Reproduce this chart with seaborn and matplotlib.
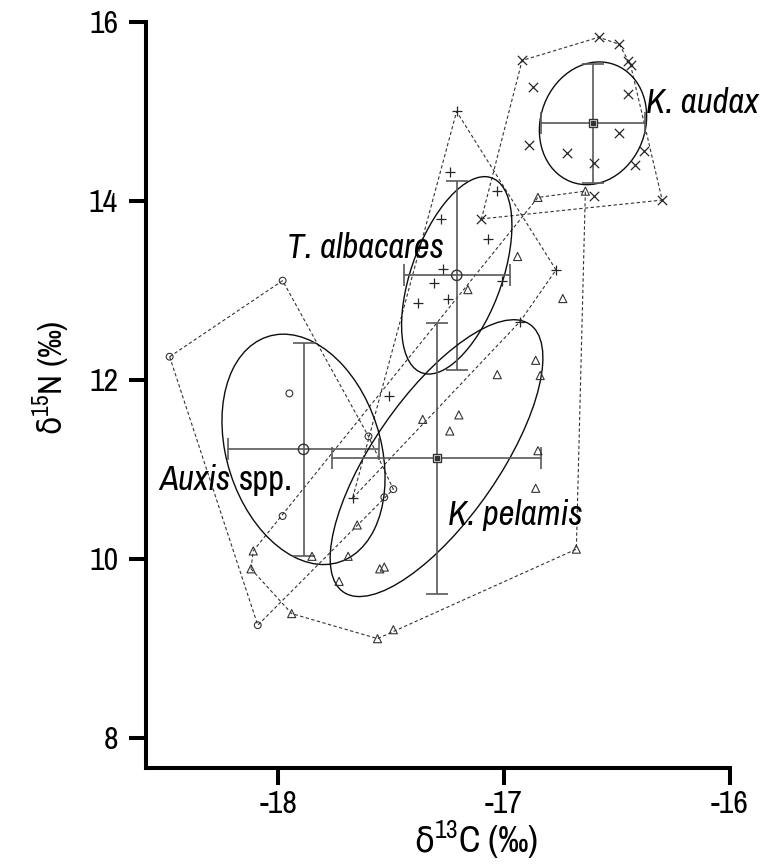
import numpy as np
import matplotlib
matplotlib.use("Agg")
import matplotlib.pyplot as plt
from matplotlib import font_manager as fm
from matplotlib.patches import Ellipse
import seaborn as sns

# d13C / d15N values per species
auxis_c = [-17.98, -18.48, -17.95, -17.60, -17.49, -17.53, -17.98, -18.09]
auxis_n = [13.11, 12.26, 11.85, 11.37, 10.78, 10.69, 10.48, 9.26]

albacares_c = [-17.21, -17.24, -17.03, -17.28, -17.07, -17.27, -17.01,
               -17.31, -17.38, -17.25, -16.77, -16.93, -17.51, -17.67]
albacares_n = [15.00, 14.32, 14.11, 13.80, 13.57, 13.24, 13.11,
               13.08, 12.86, 12.90, 13.23, 12.65, 11.82, 10.68]

pelamis_c = [-18.11, -18.12, -17.94, -17.85, -17.69, -17.65, -17.73, -17.55,
             -17.53, -17.36, -17.56, -17.49, -16.94, -17.16, -16.74, -16.86,
             -17.03, -16.84, -17.20, -17.24, -16.85, -16.86, -16.68, -16.85,
             -16.64]
pelamis_n = [10.09, 9.89, 9.39, 10.03, 10.03, 10.38, 9.75, 9.89,
             9.91, 11.56, 9.11, 9.21, 13.38, 13.01, 12.91, 12.22,
             12.06, 12.05, 11.61, 11.43, 11.21, 10.79, 10.11, 14.04,
             14.11]

audax_c = [-16.92, -16.58, -16.49, -16.45, -16.44, -16.87, -16.45, -16.49,
           -16.89, -16.72, -16.38, -16.60, -16.42, -16.60, -16.30, -17.10]
audax_n = [15.57, 15.83, 15.75, 15.56, 15.52, 15.27, 15.20, 14.76,
           14.63, 14.54, 14.56, 14.43, 14.40, 14.06, 14.01, 13.80]

species = ["Auxis", "T. albacares", "K. pelamis", "K. audax"]
point_markers = ["o", "+", "^", "x"]
mean_markers = ["o", "o", "s", "s"]


def hull(x, y):
    pts = sorted(set(zip(x, y)))

    def cross(o, a, b):
        return (a[0] - o[0]) * (b[1] - o[1]) - (a[1] - o[1]) * (b[0] - o[0])

    lower, upper = [], []
    for p in pts:
        while len(lower) >= 2 and cross(lower[-2], lower[-1], p) <= 0:
            lower.pop()
        lower.append(p)
    for p in reversed(pts):
        while len(upper) >= 2 and cross(upper[-2], upper[-1], p) <= 0:
            upper.pop()
        upper.append(p)
    h = lower[:-1] + upper[:-1]
    h.append(h[0])
    return np.array(h)


# narrow sans font, like the original
names = set(f.name for f in fm.fontManager.ttflist)
narrow = None
for cand in ["Liberation Sans Narrow", "Arial Narrow", "Nimbus Sans Narrow",
             "Archivo Narrow"]:
    if cand in names:
        narrow = cand
        break

sns.set_style("ticks")
if narrow:
    plt.rcParams["font.family"] = [narrow, "DejaVu Sans"]
    plt.rcParams["mathtext.fontset"] = "custom"
    plt.rcParams["mathtext.rm"] = narrow
    plt.rcParams["mathtext.sf"] = "DejaVu Sans:stretch=condensed"
else:
    plt.rcParams["font.family"] = ["DejaVu Sans"]
    plt.rcParams["font.stretch"] = "condensed"
plt.rcParams["text.color"] = "black"

fig = plt.figure(figsize=(7.68, 8.66), dpi=100)
ax = fig.add_axes([0.190, 0.1132, 0.7605, 0.8614])

data = [(auxis_c, auxis_n), (albacares_c, albacares_n),
        (pelamis_c, pelamis_n), (audax_c, audax_n)]

for (xs, ys), mk, mm in zip(data, point_markers, mean_markers):
    xs = np.array(xs)
    ys = np.array(ys)
    n = len(xs)

    h = hull(xs, ys)
    ax.plot(h[:, 0], h[:, 1], ls=(0, (3, 2.2)), color="0.2", lw=0.8, zorder=1)

    if mk in ("+", "x"):
        sns.scatterplot(x=xs, y=ys, marker=mk, s=45, color="0.15",
                        linewidth=0.9, ax=ax, zorder=3)
    else:
        sns.scatterplot(x=xs, y=ys, marker=mk, s=34 if mk == "^" else 24,
                        facecolor="none", edgecolor="0.2", linewidth=0.8,
                        ax=ax, zorder=3)

    # standard ellipse (small-sample corrected)
    cov = np.cov(xs, ys)
    vals, vecs = np.linalg.eigh(cov)
    corr = (n - 1) / (n - 2)
    ang = np.degrees(np.arctan2(vecs[1, 1], vecs[0, 1]))
    ell = Ellipse((xs.mean(), ys.mean()), 2 * np.sqrt(vals[1] * corr),
                  2 * np.sqrt(vals[0] * corr), angle=ang,
                  fill=False, ec="0.05", lw=1.0, zorder=2)
    ax.add_patch(ell)

    ax.errorbar(xs.mean(), ys.mean(), xerr=xs.std(ddof=1), yerr=ys.std(ddof=1),
                fmt="none", ecolor="0.35", elinewidth=1.2, capsize=8,
                capthick=1.2, zorder=2)
    if mm == "o":
        ax.scatter(xs.mean(), ys.mean(), marker="o", s=55, facecolor="none",
                   edgecolor="0.2", linewidth=1.0, zorder=4)
    else:
        ax.scatter(xs.mean(), ys.mean(), marker="s", s=40, facecolor="white",
                   edgecolor="0.2", linewidth=1.0, zorder=4)
        ax.scatter(xs.mean(), ys.mean(), marker="s", s=6, color="0.2", zorder=5)

lab = dict(fontsize=25, va="center", color="black")
ax.text(-16.37, 15.10, "K. audax", style="italic", ha="left", **lab)
ax.text(-17.265, 13.47, "T. albacares", style="italic", ha="right", **lab)
ax.text(-17.248, 10.49, "K. pelamis", style="italic", ha="left", **lab)
ax.text(-18.527, 10.88, "Auxis", style="italic", ha="left", **lab)
ax.text(-18.175, 10.88, "spp.", ha="left", **lab)

ax.set_xlim(-18.585, -16)
ax.set_ylim(7.665, 16)
ax.set_xticks([-18, -17, -16])
ax.set_yticks([8, 10, 12, 14, 16])
ax.set_xticklabels(["-18", "-17", "-16"])

sns.despine(ax=ax)
for side in ("left", "bottom"):
    ax.spines[side].set_linewidth(2.9)
    ax.spines[side].set_color("black")
ax.tick_params(axis="both", direction="out", length=12, width=2.9,
               labelsize=23, colors="black")
ax.tick_params(axis="x", pad=4)
ax.tick_params(axis="y", pad=8)

ax.set_xlabel(r"$\mathsf{\delta}^{13}$C (‰)", fontsize=26, color="black")
ax.set_ylabel(r"$\mathsf{\delta}^{15}$N (‰)", fontsize=24, color="black")
ax.xaxis.set_label_coords(0.565, -0.068)
ax.yaxis.set_label_coords(-0.127, 0.523)

fig.savefig("out.png", dpi=100)
